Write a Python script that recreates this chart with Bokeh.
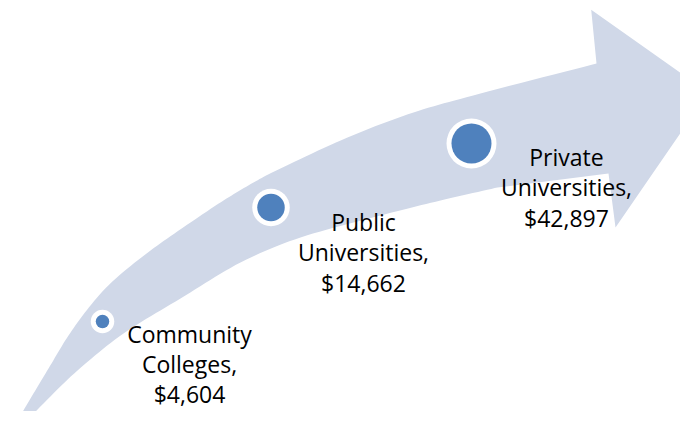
import numpy as np
from bokeh.plotting import figure
from bokeh.models import Range1d, ColumnDataSource
from bokeh.embed import file_html
from bokeh.resources import INLINE
from bokeh.core.properties import value

# ---- data ----
categories = ["Community\nColleges", "Public\nUniversities", "Private\nUniversities"]
costs = [4604, 14662, 42897]
bubble_x = [102, 270.5, 471]
bubble_y = [321, 207, 143]

# ---- styling / layout (not data) ----
inner_px = [13.5, 27.5, 40]
ring_px = 5
label_x = [189, 363, 566]
label_y = [363.5, 252, 187]

ARROW = "#D0D8E8"
BLUE = "#4F81BD"

# arrow outline (decorative shape, reference pixel space)
upper_edge = [(2, 446), (13, 427), (30, 398), (48, 368), (68, 335), (90, 305), (113, 280),
              (150, 250), (190, 222), (223, 200), (253, 182), (280, 168), (347, 137),
              (413, 112), (480, 93), (596, 63)]
head = [(590.7, 9.3), (708, 92), (615, 227), (608, 173)]
lower_edge = [(497, 187), (440, 200), (380, 215), (300, 237), (240, 262), (180, 298),
              (123, 333), (77, 370), (43, 403), (20, 427), (2, 446)]


def smooth(pts, n=12):
    """Catmull-Rom resampling of a decorative outline edge."""
    P = np.array(pts, dtype=float)
    P = np.vstack([P[0], P, P[-1]])
    out = []
    for i in range(1, len(P) - 2):
        p0, p1, p2, p3 = P[i - 1], P[i], P[i + 1], P[i + 2]
        for t in np.linspace(0, 1, n, endpoint=False):
            t2, t3 = t * t, t * t * t
            out.append(0.5 * ((2 * p1) + (-p0 + p2) * t + (2 * p0 - 5 * p1 + 4 * p2 - p3) * t2
                              + (-p0 + 3 * p1 - 3 * p2 + p3) * t3))
    out.append(P[-2])
    return out


outline = smooth(upper_edge) + head + smooth(lower_edge)
ax = [float(pt[0]) for pt in outline]
ay = [float(pt[1]) for pt in outline]

p = figure(width=680, height=411, output_backend="svg", toolbar_location=None,
           x_range=Range1d(0, 680), y_range=Range1d(411, 0),
           min_border=0, outline_line_color=None)
p.axis.visible = False
p.grid.visible = False
p.background_fill_color = "white"
p.border_fill_color = "white"

p.patch(ax, ay, fill_color=ARROW, line_color=None)

src = ColumnDataSource(dict(
    x=bubble_x, y=bubble_y,
    inner=inner_px,
    outer=[d + 2 * ring_px for d in inner_px],
))
p.scatter("x", "y", size="outer", source=src, fill_color="white", line_color=None)
p.scatter("x", "y", size="inner", source=src, fill_color=BLUE, line_color=None)

labels = [f"{c},\n${v:,}" for c, v in zip(categories, costs)]
lsrc = ColumnDataSource(dict(x=label_x, y=label_y, t=labels))
p.text("x", "y", text="t", source=lsrc, text_font=value("Open Sans"),
       text_font_size="23px", text_align="center", text_baseline="middle",
       text_line_height=0.95, text_color="black")

open("out.html", "w").write(file_html(p, INLINE))
